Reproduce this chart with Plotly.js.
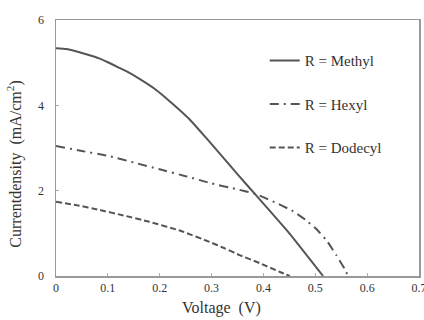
<!DOCTYPE html>
<html><head><meta charset="utf-8">
<script src="https://cdn.plot.ly/plotly-3.0.1.min.js"></script>
<style>body{margin:0;padding:0;background:#fff}#c{width:424px;height:320px}</style>
</head><body><div id="c"></div>
<script>
const seriesNames = ["R = Methyl", "R = Hexyl", "R = Dodecyl"];
const methylV = [0, 0.02, 0.04, 0.06, 0.083, 0.10, 0.122, 0.14, 0.161, 0.19, 0.218, 0.257, 0.29, 0.325, 0.354, 0.383, 0.45, 0.515];
const methylJ = [5.34, 5.32, 5.26, 5.19, 5.10, 5.01, 4.88, 4.77, 4.62, 4.39, 4.11, 3.68, 3.23, 2.74, 2.33, 1.93, 1.00, 0.0];
const hexylV = [0, 0.05, 0.103, 0.15, 0.20, 0.25, 0.30, 0.35, 0.383, 0.418, 0.457, 0.483, 0.502, 0.522, 0.541, 0.557, 0.563];
const hexylJ = [3.05, 2.93, 2.81, 2.66, 2.50, 2.34, 2.17, 2.03, 1.93, 1.75, 1.52, 1.30, 1.10, 0.83, 0.48, 0.16, 0.0];
const dodecylV = [0, 0.04, 0.083, 0.13, 0.18, 0.24, 0.296, 0.325, 0.354, 0.393, 0.431, 0.451];
const dodecylJ = [1.74, 1.66, 1.55, 1.42, 1.27, 1.06, 0.80, 0.65, 0.49, 0.30, 0.10, 0.0];
const xTicks = [0, 0.1, 0.2, 0.3, 0.4, 0.5, 0.6, 0.7];
const yTicks = [0, 2, 4, 6];
const xTitle = "Voltage&nbsp;&nbsp;(V)";
const yTitle = "Currentdensity&nbsp;&nbsp;(mA/cm<sup>2</sup>)";

const lineCol = "#555555";
const traces = [
  {x: methylV, y: methylJ, name: seriesNames[0], legendgroup: "a", mode: "lines",
   line: {color: lineCol, width: 2, dash: "solid", shape: "spline", smoothing: 0.4}},
  {x: hexylV, y: hexylJ, name: seriesNames[1], legendgroup: "b", mode: "lines",
   line: {color: lineCol, width: 2, dash: "9px,5px,2px,5px", shape: "spline", smoothing: 0.4}},
  {x: dodecylV, y: dodecylJ, name: seriesNames[2], legendgroup: "c", mode: "lines",
   line: {color: lineCol, width: 2, dash: "6px,3px", shape: "spline", smoothing: 0.4}}
];
const fontSerif = "Liberation Serif";
const layout = {
  width: 424, height: 320,
  margin: {l: 56, r: 5, t: 20, b: 44},
  paper_bgcolor: "#fff", plot_bgcolor: "#fff",
  font: {family: fontSerif, color: "#333", size: 11},
  showlegend: true,
  legend: {x: 0.575, y: 0.905, xanchor: "left", yanchor: "top", bgcolor: "rgba(0,0,0,0)",
    font: {family: fontSerif, size: 15, color: "#333"}, tracegroupgap: 21, traceorder: "grouped",
    itemwidth: 30},
  xaxis: {range: [0, 0.7], tickvals: xTicks, ticktext: xTicks.map(String), ticks: "inside", ticklen: 3,
    tickcolor: "#aaa", showline: true, linecolor: "#999", linewidth: 1.5, mirror: true,
    showgrid: false, zeroline: false, ticklabeloverflow: "allow",
    tickfont: {family: fontSerif, size: 12, color: "#333"}},
  yaxis: {range: [0, 6], tickvals: yTicks, ticktext: yTicks.map(String), ticks: "inside", ticklen: 3,
    tickcolor: "#aaa", showline: true, linecolor: "#999", linewidth: 1.5, mirror: true,
    showgrid: false, zeroline: false, ticklabelstandoff: 8,
    tickfont: {family: fontSerif, size: 12, color: "#333"}},
  annotations: [
    {text: xTitle, xref: "paper", yref: "paper", x: 0.457, y: 0, xanchor: "center", yanchor: "top",
     yshift: -21, showarrow: false, font: {family: fontSerif, size: 16, color: "#333"}},
    {text: yTitle, xref: "paper", yref: "paper", x: 0, y: 0.435, xanchor: "center", yanchor: "middle",
     xshift: -41, textangle: -90, showarrow: false, font: {family: fontSerif, size: 16, color: "#333"}}
  ]
};
Plotly.newPlot("c", traces, layout, {displayModeBar: false, staticPlot: true});
</script></body></html>
